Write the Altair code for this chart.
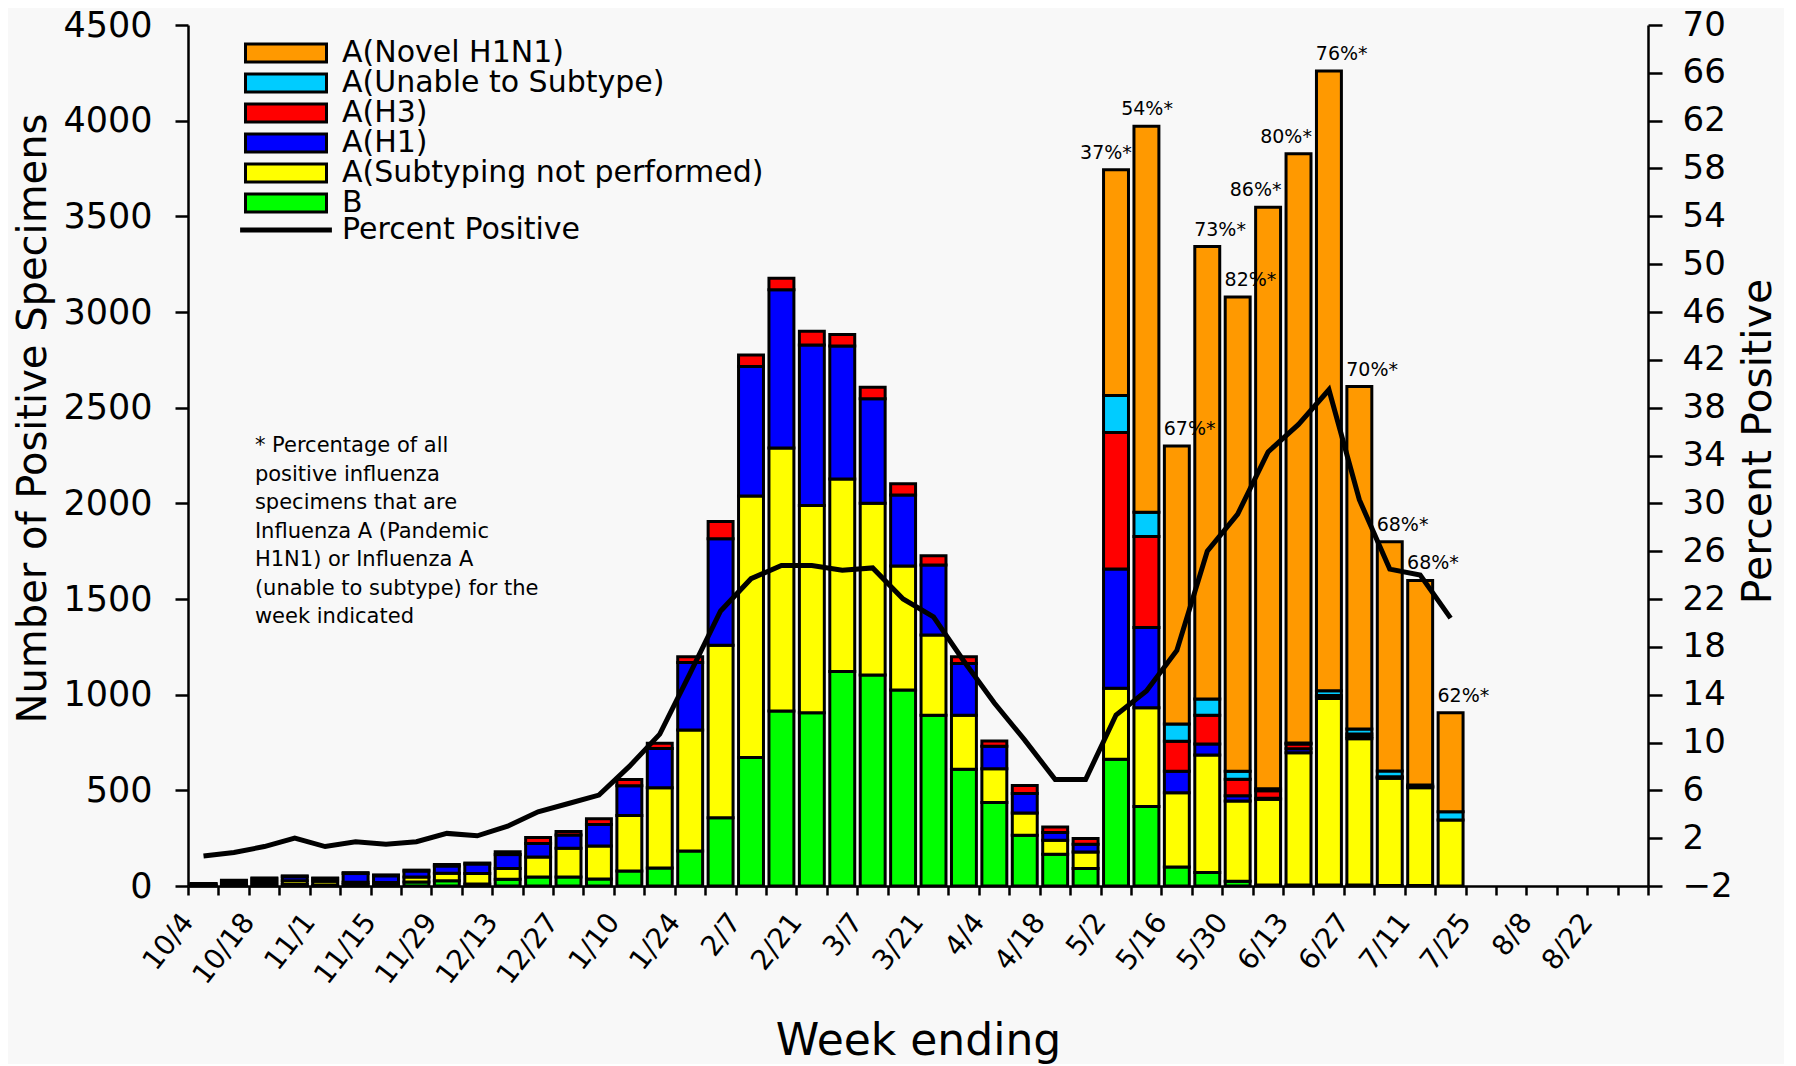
import altair as alt
import pandas as pd

# ---------------- data ----------------
week_labels = ["10/4", "10/18", "11/1", "11/15", "11/29", "12/13", "12/27", "1/10",
               "1/24", "2/7", "2/21", "3/7", "3/21", "4/4", "4/18", "5/2", "5/16",
               "5/30", "6/13", "6/27", "7/11", "7/25", "8/8", "8/22"]

categories = ["A(Novel H1N1)", "A(Unable to Subtype)", "A(H3)", "A(H1)",
              "A(Subtyping not performed)", "B"]
colors = ["#FF9900", "#00CCFF", "#FF0000", "#0000FF", "#FFFF00", "#00FF00"]

b_vals = [2, 5, 8, 8, 5, 8, 8, 21, 28, 10, 35, 47, 47, 37, 78, 94, 183, 357, 672, 915,
          905, 1121, 1103, 1025, 892, 610, 436, 265, 166, 91, 662, 416, 99, 70, 25, 5,
          5, 5, 5, 3, 2, 0]
a_not_vals = [5, 10, 15, 20, 20, 12, 10, 26, 38, 55, 56, 105, 150, 172, 291, 420, 632,
              901, 1366, 1374, 1084, 1006, 898, 647, 420, 283, 177, 117, 73, 87, 371,
              515, 388, 615, 419, 448, 692, 975, 765, 560, 512, 345]
h1_vals = [5, 12, 15, 20, 14, 45, 35, 31, 39, 50, 73, 70, 70, 113, 155, 204, 353, 557,
           677, 827, 839, 695, 546, 371, 366, 270, 117, 101, 40, 40, 624, 420, 113, 57,
           28, 5, 20, 10, 10, 5, 3, 0]
h3_vals = [1, 3, 4, 5, 3, 5, 5, 5, 8, 5, 15, 31, 18, 30, 33, 28, 30, 90, 60, 60, 72, 60,
           60, 60, 48, 35, 28, 42, 30, 30, 713, 476, 156, 150, 86, 40, 25, 5, 15, 3, 3, 0]
unable_vals = [0] * 30 + [193, 127, 91, 85, 42, 10, 5, 25, 25, 30, 8, 43]
novel_vals = [0] * 30 + [1181, 2017, 1452, 2365, 2479, 3039, 3080, 3240, 1790, 1198,
                         1069, 518]

pct_positive = [0.5, 0.8, 1.3, 2.0, 1.3, 1.7, 1.5, 1.7, 2.4, 2.2, 3.0, 4.2, 4.9, 5.6,
                8.0, 10.7, 15.8, 21.0, 23.7, 24.8, 24.8, 24.4, 24.6, 22.0, 20.5, 16.8,
                13.3, 10.2, 6.9, 6.9, 12.3, 14.3, 17.7, 26.0, 29.1, 34.3, 36.6, 39.5,
                30.3, 24.5, 24.0, 20.4]

pct_label_weeks = list(range(30, 42))
pct_labels = ["37%*", "54%*", "67%*", "73%*", "82%*", "86%*", "80%*", "76%*", "70%*",
              "68%*", "68%*", "62%*"]

note_text = ("* Percentage of all\npositive influenza\nspecimens that are\n"
             "Influenza A (Pandemic\nH1N1) or Influenza A\n(unable to subtype) for the\n"
             "week indicated")

# ---------------- layout / style (not data) ----------------
label_shift = [-0.75, -0.4, 0, 0, 0, -0.83, -0.83, 0, 0, 0, 0, 0]  # in week units

# ---------------- tables ----------------
series = {"B": b_vals, "A(Subtyping not performed)": a_not_vals, "A(H1)": h1_vals,
          "A(H3)": h3_vals, "A(Unable to Subtype)": unable_vals,
          "A(Novel H1N1)": novel_vals}
stack_order = ["B", "A(Subtyping not performed)", "A(H1)", "A(H3)",
               "A(Unable to Subtype)", "A(Novel H1N1)"]
rows = []
for k, name in enumerate(stack_order):
    for i, v in enumerate(series[name]):
        rows.append({"idx": i, "type": name, "count": v, "order": k})
bars_df = pd.DataFrame(rows)

totals = [sum(series[n][i] for n in stack_order) for i in range(len(b_vals))]
line_df = pd.DataFrame({"idx": list(range(len(pct_positive))), "pct": pct_positive,
                        "series": "Percent Positive"})
lab_df = pd.DataFrame({"idx": pct_label_weeks, "label": pct_labels, "shift": label_shift,
                       "total": [totals[i] for i in pct_label_weeks]})
note_df = pd.DataFrame({"idx": [2.2], "val": [2355], "text": [note_text]})

FONT = "DejaVu Sans"
N_TICKS = 48
label_arr = "[" + ",".join("'" + s + "'" for s in week_labels) + "]"

x_scale = alt.Scale(domain=[0, N_TICKS], nice=False, zero=False)
x_axis = alt.Axis(
    values=list(range(N_TICKS + 1)),
    labelExpr=f"(datum.value % 2 == 0 && datum.value < {2*len(week_labels)}) ? {label_arr}[datum.value/2] : ''",
    labelAngle=-52, labelFontSize=28, labelFont=FONT, labelColor="black",
    labelPadding=22, labelOverlap=False, labelFlush=False,
    tickSize=9, tickWidth=2.5, tickColor="black", domainWidth=2.5, domainColor="black",
    grid=False, title="Week ending", titleFontSize=44, titleFont=FONT,
    titleFontWeight="normal", titleColor="black", titlePadding=30)

y_scale = alt.Scale(domain=[0, 4500], nice=False, zero=True)
y_axis = alt.Axis(
    values=list(range(0, 4501, 500)), format="d", labelFontSize=35, labelFont=FONT,
    labelColor="black", labelPadding=23, labelFlush=False, tickSize=13, tickWidth=2.5,
    tickColor="black", domainWidth=2.5, domainColor="black", grid=False,
    title="Number of Positive Specimens", titleFontSize=40, titleFont=FONT,
    titleFontWeight="normal", titleColor="black", titlePadding=9, titleY=393)

y2_scale = alt.Scale(domain=[-2, 70], nice=False, zero=False)
y2_axis = alt.Axis(
    orient="right", values=list(range(-2, 71, 4)), format="d", labelFontSize=34,
    labelFont=FONT, labelColor="black", labelPadding=20, labelFlush=False, tickSize=14,
    tickWidth=2.5, tickColor="black", domainWidth=2.5, domainColor="black", grid=False,
    title="Percent Positive", titleFontSize=41, titleFont=FONT, titleAngle=-90,
    titleBaseline="top", titleFontWeight="normal", titleColor="black",
    titlePadding=6, titleY=416)

RECT_PATH = "M-4.5,-1H4.5V1H-4.5Z"
LINE_PATH = "M-5.1,0H5.1"

color_legend = alt.Legend(
    orient="none", legendX=83, legendY=13, title=None,
    symbolType=RECT_PATH, symbolSize=324, symbolStrokeColor="black",
    symbolStrokeWidth=3, symbolOpacity=1, labelFontSize=30, labelFont=FONT,
    labelColor="black", labelOffset=41, labelLimit=0, rowPadding=0, padding=0)

bars = alt.Chart(bars_df).transform_filter("datum.count > 0").transform_stack(
    stack="count", as_=["y0", "y1"], groupby=["idx"],
    sort=[alt.SortField("order", order="ascending")]
).transform_calculate(xs="datum.idx + 0.1", xe="datum.idx + 0.92").mark_rect(
    stroke="black", strokeWidth=3
).encode(
    x=alt.X("xs:Q", scale=x_scale, axis=x_axis),
    x2="xe:Q",
    y=alt.Y("y0:Q", scale=y_scale, axis=y_axis),
    y2="y1:Q",
    color=alt.Color("type:N", scale=alt.Scale(domain=categories, range=colors),
                    legend=color_legend),
)

labels = alt.Chart(lab_df).transform_calculate(
    xl="datum.idx + 0.08 + datum.shift"
).mark_text(
    font=FONT, fontSize=19, align="left", baseline="bottom", dy=-7, color="black"
).encode(
    x=alt.X("xl:Q", scale=x_scale, axis=x_axis),
    y=alt.Y("total:Q", scale=y_scale, axis=y_axis),
    text="label:N",
)

note = alt.Chart(note_df).mark_text(
    font=FONT, fontSize=21, align="left", baseline="top", lineBreak="\n",
    lineHeight=28.5, color="black"
).encode(
    x=alt.X("idx:Q", scale=x_scale, axis=x_axis),
    y=alt.Y("val:Q", scale=y_scale, axis=y_axis),
    text="text:N",
)

line = alt.Chart(line_df).transform_calculate(xc="datum.idx + 0.51").mark_line(
    strokeWidth=5
).encode(
    x=alt.X("xc:Q", scale=x_scale, axis=x_axis),
    y=alt.Y("pct:Q", scale=y2_scale, axis=y2_axis),
    stroke=alt.Stroke("series:N", scale=alt.Scale(domain=["Percent Positive"], range=["black"]),
                      legend=alt.Legend(orient="none", legendX=83, legendY=190, title=None,
                                        symbolType=LINE_PATH, symbolSize=324,
                                        symbolStrokeWidth=5, symbolStrokeColor="black",
                                        labelFontSize=30, labelFont=FONT,
                                        labelColor="black", labelOffset=41, labelLimit=0,
                                        padding=0)),
)

left = alt.layer(bars, note, labels)
chart = alt.layer(left, line).resolve_scale(y="independent").properties(
    width=1460, height=861,
    padding={"left": 5, "top": 0, "right": 5, "bottom": 0},
).configure(background="#f8f8f8").configure_view(stroke=None)

chart.save("out.html", embed_options={"renderer": "svg", "actions": False})
